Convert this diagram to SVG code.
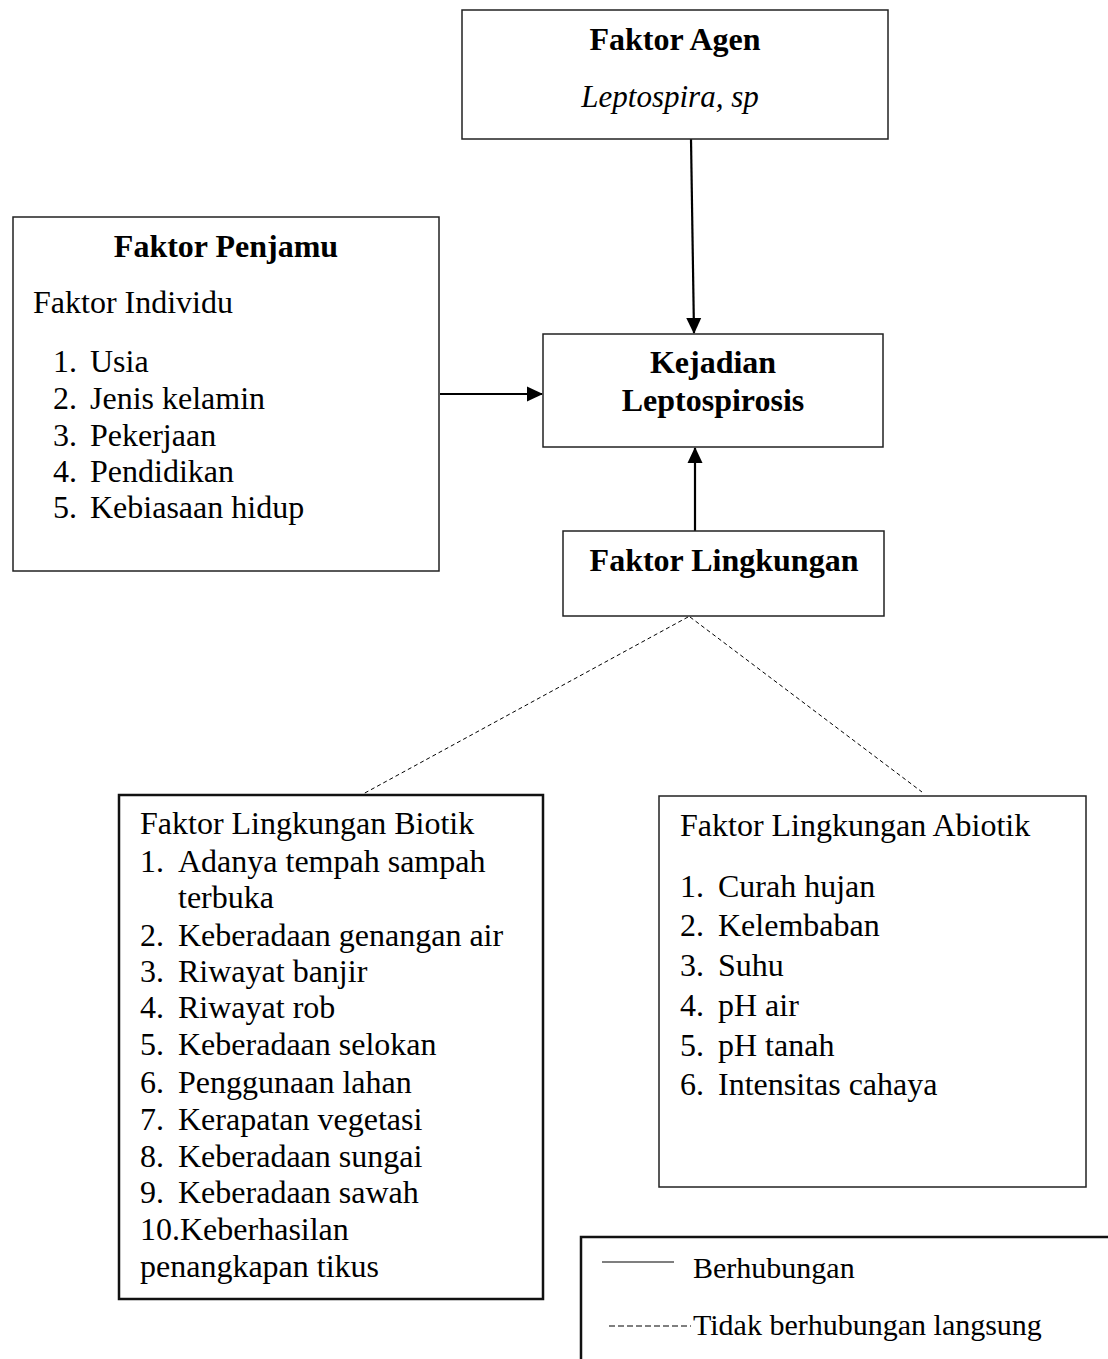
<svg xmlns="http://www.w3.org/2000/svg" width="1108" height="1359" viewBox="0 0 1108 1359">
<style>
.box{fill:#fff;stroke:#222;stroke-width:1.5}
.boxb{fill:#fff;stroke:#111;stroke-width:2.5}
.t{font-family:"Liberation Serif","Times New Roman",serif;font-size:32px;fill:#000}
.lg{font-size:30px}
.b{font-weight:bold}
.i{font-style:italic}
.m{text-anchor:middle}
.arr{stroke:#000;stroke-width:2.2;fill:none}
.dash{stroke:#000;stroke-width:1;stroke-dasharray:4 3;fill:none}
</style>
<defs>
<marker id="ah" markerUnits="userSpaceOnUse" markerWidth="16" markerHeight="16" viewBox="0 0 16 16" refX="15" refY="8" orient="auto">
<path d="M0,0.5 L16,8 L0,15.5 Z" fill="#000"/>
</marker>
</defs>
<rect width="1108" height="1359" fill="#fff"/>
<g id="connectors">
<line class="arr" x1="691" y1="139" x2="694" y2="333" marker-end="url(#ah)"/>
<line class="arr" x1="440" y1="394" x2="542" y2="394" marker-end="url(#ah)"/>
<line class="arr" x1="695" y1="531" x2="695" y2="448" marker-end="url(#ah)"/>
<line class="dash" x1="688" y1="617" x2="363" y2="794"/>
<line class="dash" x1="690" y1="617" x2="922" y2="792"/>
</g>
<g id="agen">
<rect class="box" x="462" y="10" width="426" height="129"/>
<text class="t b m" x="675" y="50">Faktor Agen</text>
<text class="t i m" x="670" y="107" style="font-size:31px">Leptospira, sp</text>
</g>
<g id="penjamu">
<rect class="box" x="13" y="217" width="426" height="354"/>
<text class="t b m" x="226" y="257">Faktor Penjamu</text>
<text class="t" x="33" y="313">Faktor Individu</text>
<text class="t" x="53" y="372">1.</text><text class="t" x="90" y="372">Usia</text>
<text class="t" x="53" y="409">2.</text><text class="t" x="90" y="409">Jenis kelamin</text>
<text class="t" x="53" y="446">3.</text><text class="t" x="90" y="446">Pekerjaan</text>
<text class="t" x="53" y="482">4.</text><text class="t" x="90" y="482">Pendidikan</text>
<text class="t" x="53" y="518">5.</text><text class="t" x="90" y="518">Kebiasaan hidup</text>
</g>
<g id="kejadian">
<rect class="box" x="543" y="334" width="340" height="113"/>
<text class="t b m" x="713" y="373">Kejadian</text>
<text class="t b m" x="713" y="411">Leptospirosis</text>
</g>
<g id="lingkungan">
<rect class="box" x="563" y="531" width="321" height="85"/>
<text class="t b m" x="724" y="571">Faktor Lingkungan</text>
</g>
<g id="biotik">
<rect class="boxb" x="119" y="795" width="424" height="504"/>
<text class="t" x="140" y="834">Faktor Lingkungan Biotik</text>
<text class="t" x="140" y="872">1.</text><text class="t" x="178" y="872">Adanya tempah sampah</text>
<text class="t" x="178" y="908">terbuka</text>
<text class="t" x="140" y="946">2.</text><text class="t" x="178" y="946">Keberadaan genangan air</text>
<text class="t" x="140" y="982">3.</text><text class="t" x="178" y="982">Riwayat banjir</text>
<text class="t" x="140" y="1018">4.</text><text class="t" x="178" y="1018">Riwayat rob</text>
<text class="t" x="140" y="1055">5.</text><text class="t" x="178" y="1055">Keberadaan selokan</text>
<text class="t" x="140" y="1093">6.</text><text class="t" x="178" y="1093">Penggunaan lahan</text>
<text class="t" x="140" y="1130">7.</text><text class="t" x="178" y="1130">Kerapatan vegetasi</text>
<text class="t" x="140" y="1167">8.</text><text class="t" x="178" y="1167">Keberadaan sungai</text>
<text class="t" x="140" y="1203">9.</text><text class="t" x="178" y="1203">Keberadaan sawah</text>
<text class="t" x="140" y="1240">10.Keberhasilan</text>
<text class="t" x="140" y="1277">penangkapan tikus</text>
</g>
<g id="abiotik">
<rect class="box" x="659" y="796" width="427" height="391"/>
<text class="t" x="680" y="836">Faktor Lingkungan Abiotik</text>
<text class="t" x="680" y="897">1.</text><text class="t" x="718" y="897">Curah hujan</text>
<text class="t" x="680" y="936">2.</text><text class="t" x="718" y="936">Kelembaban</text>
<text class="t" x="680" y="976">3.</text><text class="t" x="718" y="976">Suhu</text>
<text class="t" x="680" y="1016">4.</text><text class="t" x="718" y="1016">pH air</text>
<text class="t" x="680" y="1056">5.</text><text class="t" x="718" y="1056">pH tanah</text>
<text class="t" x="680" y="1095">6.</text><text class="t" x="718" y="1095">Intensitas cahaya</text>
</g>
<g id="legend">
<rect class="boxb" x="581" y="1237" width="540" height="140"/>
<line x1="602" y1="1262" x2="674" y2="1262" stroke="#000" stroke-width="1.2"/>
<text class="t lg" x="693" y="1278">Berhubungan</text>
<line x1="609" y1="1326" x2="691" y2="1326" stroke="#000" stroke-width="1.2" stroke-dasharray="6 3"/>
<text class="t lg" x="693" y="1335">Tidak berhubungan langsung</text>
</g>
</svg>
